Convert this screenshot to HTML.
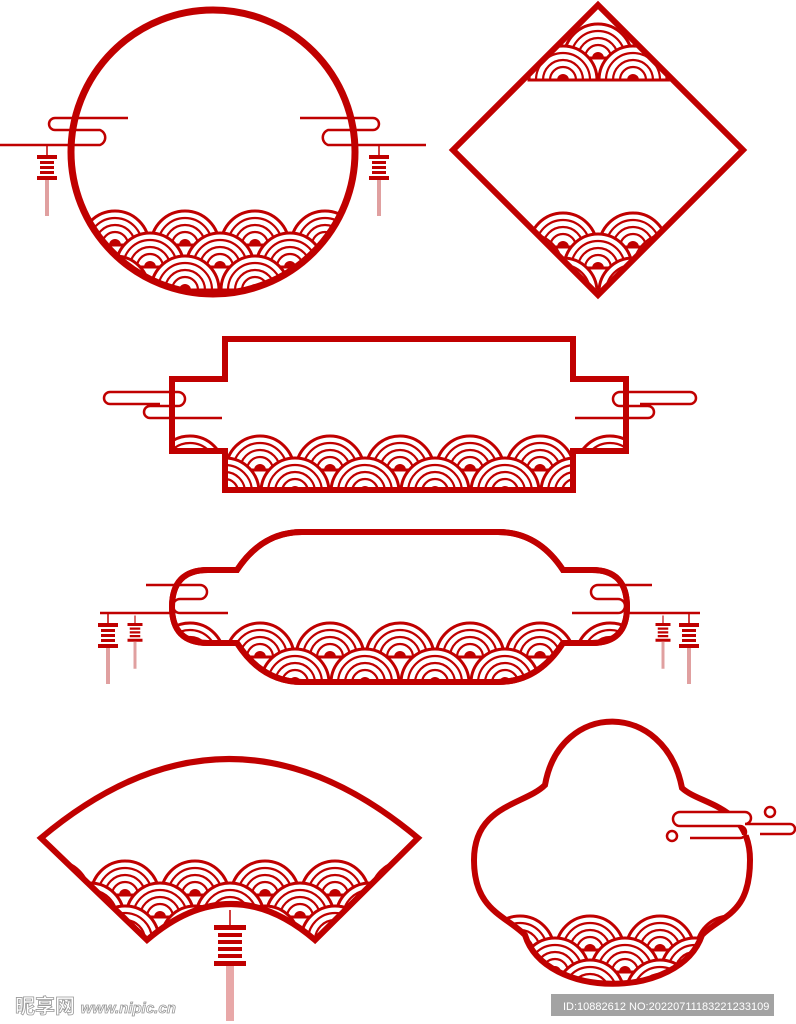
<!DOCTYPE html>
<html><head><meta charset="utf-8"><style>
html,body{margin:0;padding:0;background:#fff;}
svg{display:block;}
</style></head><body>
<svg width="796" height="1024" viewBox="0 0 796 1024" xmlns="http://www.w3.org/2000/svg">
<defs>
<g id="s">
<path d="M-34 0 A34 34 0 0 1 34 0 Z" fill="#fff" stroke="#c00000" stroke-width="3"/>
<path d="M-27 0 A27 27 0 0 1 27 0" fill="none" stroke="#c00000" stroke-width="2.2"/>
<path d="M-20 0 A20 20 0 0 1 20 0" fill="none" stroke="#c00000" stroke-width="2.2"/>
<path d="M-13 0 A13 13 0 0 1 13 0" fill="none" stroke="#c00000" stroke-width="2.2"/>
<path d="M-6 0 A6 6 0 0 1 6 0 Z" fill="#c00000"/>
</g>
<g id="r">
<use href="#s" x="0"/><use href="#s" x="70"/><use href="#s" x="140"/><use href="#s" x="210"/><use href="#s" x="280"/><use href="#s" x="350"/><use href="#s" x="420"/><use href="#s" x="490"/><use href="#s" x="560"/><use href="#s" x="630"/><use href="#s" x="700"/><use href="#s" x="770"/>
</g>
<g id="lan">
<line x1="0" y1="-10" x2="0" y2="0" stroke="#c00000" stroke-width="1.5"/>
<rect x="-10" y="0" width="20" height="4" fill="#c00000"/>
<rect x="-7" y="6" width="14" height="3" fill="#c00000"/>
<rect x="-7" y="11" width="14" height="3" fill="#c00000"/>
<rect x="-7" y="16" width="14" height="3" fill="#c00000"/>
<rect x="-10" y="21" width="20" height="4" fill="#c00000"/>
<rect x="-2" y="25" width="4" height="36" fill="#e0a0a0"/>
</g>
<clipPath id="c1"><circle cx="213" cy="152" r="139"/></clipPath>
<clipPath id="c2"><path d="M598 9 L739 150 L598 291 L457 150 Z"/></clipPath>
<clipPath id="c3"><path d="M227 341 L571 341 L571 381 L624 381 L624 449 L571 449 L571 488 L227 488 L227 449 L174 449 L174 381 L227 381 Z"/></clipPath>
<clipPath id="c4"><path id="p4" d="M237 570 Q262 532 302 532 L498 532 Q538 532 563 570 L592 570 Q627 570 627 607 Q627 643 592 643 L563 643 Q538 682 498 682 L302 682 Q262 682 237 643 L208 643 Q172 643 172 607 Q172 570 208 570 Z"/></clipPath>
<clipPath id="c5"><path d="M43 838 Q229 682 416 838 L315 938 Q231 868 147 938 Z"/></clipPath>
<clipPath id="c6"><path d="M545 785 C560 700 665 700 682 788 C700 805 750 805 750 860 C750 915 722 915 702 935 C680 1000 545 1000 525 935 C505 915 474 910 474 860 C474 805 525 805 545 785 Z"/></clipPath>
</defs>

<!-- Frame 1: circle -->
<g clip-path="url(#c1)">
<use href="#r" x="45" y="245"/><use href="#r" x="10" y="267"/><use href="#r" x="45" y="290"/>
</g>
<circle cx="213" cy="152" r="142" fill="none" stroke="#c00000" stroke-width="7"/>
<g fill="none" stroke="#c00000" stroke-width="2.5">
<path d="M0 145 L100 145 A8 8 0 0 0 100 130 L55 130 A6 6 0 0 1 55 118 L128 118"/>
<path d="M426 145 L328 145 A8 8 0 0 1 328 130 L373 130 A6 6 0 0 0 373 118 L300 118"/>
</g>
<use href="#lan" x="47" y="155"/>
<use href="#lan" x="379" y="155"/>

<!-- Frame 2: diamond -->
<g clip-path="url(#c2)">
<use href="#r" x="528" y="58"/><use href="#r" x="563" y="80"/>
<use href="#r" x="563" y="247"/><use href="#r" x="528" y="268"/><use href="#r" x="563" y="292"/>
</g>
<path d="M598 5 L743 150 L598 295 L453 150 Z" fill="none" stroke="#c00000" stroke-width="6"/>

<!-- Frame 3: rectangle -->
<g clip-path="url(#c3)">
<use href="#r" x="-20" y="470"/><use href="#r" x="-55" y="492"/>
</g>
<path d="M225 339 L573 339 L573 379 L626 379 L626 451 L573 451 L573 490 L225 490 L225 451 L172 451 L172 379 L225 379 Z" fill="none" stroke="#c00000" stroke-width="6"/>
<g fill="#fff" stroke="#c00000" stroke-width="2.5">
<path d="M222 418 L150 418 A6 6 0 0 1 150 406 L178 406 A7 7 0 0 0 178 392 L110 392 A6 6 0 0 0 110 404 L160 404" fill="none"/>
<path d="M575 418 L648 418 A6 6 0 0 0 648 406 L620 406 A7 7 0 0 1 620 392 L690 392 A6 6 0 0 1 690 404 L640 404" fill="none"/>
</g>

<!-- Frame 4: pill -->
<g clip-path="url(#c4)">
<use href="#r" x="-20" y="657"/><use href="#r" x="-55" y="683"/>
</g>
<use href="#p4" fill="none" stroke="#c00000" stroke-width="6"/>
<path d="M237 570 Q262 532 302 532 L498 532 Q538 532 563 570 L592 570 Q627 570 627 607 Q627 643 592 643 L563 643 Q538 682 498 682 L302 682 Q262 682 237 643 L208 643 Q172 643 172 607 Q172 570 208 570 Z" fill="none" stroke="#c00000" stroke-width="6"/>
<g fill="none" stroke="#c00000" stroke-width="2.5">
<path d="M100 613 L172 613"/><path d="M146 585 L200 585 A7 7 0 0 1 200 599 L180 599 A7 7 0 0 0 180 613 L228 613"/>
<path d="M700 613 L627 613"/><path d="M652 585 L598 585 A7 7 0 0 0 598 599 L618 599 A7 7 0 0 1 618 613 L572 613"/>
</g>
<use href="#lan" x="108" y="623"/>
<g transform="translate(135,623) scale(0.75)"><use href="#lan"/></g>
<use href="#lan" x="689" y="623"/>
<g transform="translate(663,623) scale(0.75)"><use href="#lan"/></g>

<!-- Frame 5: fan -->
<g clip-path="url(#c5)">
<use href="#r" x="-15" y="895"/><use href="#r" x="20" y="917"/><use href="#r" x="-15" y="940"/>
</g>
<path d="M41 838 Q229 680 418 838 L315 940 Q231 868 147 940 Z" fill="none" stroke="#c00000" stroke-width="6"/>
<g transform="translate(230,925)">
<rect x="-16" y="0" width="32" height="5" fill="#c00000"/>
<rect x="-12" y="8" width="24" height="4" fill="#c00000"/>
<rect x="-12" y="15" width="24" height="4" fill="#c00000"/>
<rect x="-12" y="22" width="24" height="4" fill="#c00000"/>
<rect x="-12" y="29" width="24" height="4" fill="#c00000"/>
<rect x="-16" y="36" width="32" height="5" fill="#c00000"/>
<line x1="0" y1="-15" x2="0" y2="0" stroke="#c00000" stroke-width="1.5"/>
<rect x="-4" y="41" width="8" height="55" fill="#e8a8a8"/>
</g>

<!-- Frame 6: cloud -->
<g clip-path="url(#c6)">
<use href="#r" x="30" y="950"/><use href="#r" x="-5" y="972"/><use href="#r" x="30" y="994"/>
</g>
<path d="M545 785 C560 700 665 700 682 788 C700 805 750 805 750 860 C750 915 722 915 702 935 C680 1000 545 1000 525 935 C505 915 474 910 474 860 C474 805 525 805 545 785 Z" fill="none" stroke="#c00000" stroke-width="6"/>
<g fill="#fff" stroke="#c00000" stroke-width="2.5">
<path d="M690 838 L740 838 A6 6 0 0 0 740 826 L680 826 A7 7 0 0 1 680 812 L745 812 A6 6 0 0 1 745 824 L790 824 A5 5 0 0 1 790 834 L760 834"/>
<circle cx="672" cy="836" r="5"/><circle cx="770" cy="812" r="5"/>
</g>

<!-- watermark -->
<text x="15" y="1013" font-family="'Liberation Sans','Noto Sans CJK SC',sans-serif" font-size="20" font-weight="bold" fill="#fff" stroke="#999" stroke-width="0.8">昵享网 <tspan font-size="15" font-style="italic">www.nipic.cn</tspan></text>
<rect x="551" y="994" width="223" height="22" fill="#999" opacity="0.9"/>
<text x="563" y="1010" font-family="'Liberation Sans',sans-serif" font-size="11" fill="#fff">ID:10882612 NO:20220711183221233109</text>
</svg>
</body></html>
